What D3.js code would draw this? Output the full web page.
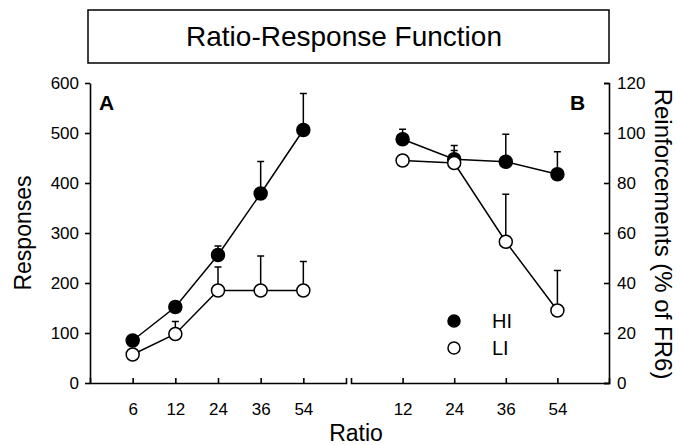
<!DOCTYPE html>
<html>
<head>
<meta charset="utf-8">
<script src="https://cdn.jsdelivr.net/npm/d3@7"></script>
<style>
  body { margin: 0; background: #fff; }
  svg { font-family: "Liberation Sans", Arial, sans-serif; }
</style>
</head>
<body>
<svg id="chart" width="681" height="445"></svg>
<script>
// panel A: responses
var ratiosA = [6, 12, 24, 36, 54];
var hiResp = [85, 152, 256, 379, 506];
var hiRespErr = [0, 0, 18, 64, 73];
var liResp = [57, 98, 185, 185, 185];
var liRespErr = [0, 25, 47, 69, 58];

// panel B: reinforcements (% of FR6)
var ratiosB = [12, 24, 36, 54];
var hiReinf = [97.5, 89.5, 88.5, 83.5];
var hiReinfErr = [4, 5.5, 11, 9];
var liReinf = [89, 88, 56.5, 29];
var liReinfErr = [0, 5, 19, 16];

var respTicks = [0, 100, 200, 300, 400, 500, 600];
var reinfTicks = [0, 20, 40, 60, 80, 100, 120];

var svg = d3.select('#chart');

var yA = d3.scaleLinear().domain([0, 600]).range([383, 83]);
var yB = d3.scaleLinear().domain([0, 120]).range([383, 83]);
var xA = d3.scalePoint().domain(ratiosA).range([90, 346]).padding(1);
var xB = d3.scalePoint().domain(ratiosB).range([351, 609]).padding(1);

// title box
svg.append('rect')
    .attr('x', 88).attr('y', 10).attr('width', 521).attr('height', 53)
    .attr('fill', 'none').attr('stroke', '#000').attr('stroke-width', 1.5);
svg.append('text')
    .attr('x', 344).attr('y', 46)
    .attr('text-anchor', 'middle')
    .style('font-size', '28px')
    .text('Ratio-Response Function');

// axes
function styleAxis(g) {
    g.selectAll('path, line').attr('stroke', '#000').attr('stroke-width', 1.6);
    g.selectAll('text').style('font-size', '17px').attr('fill', '#000');
    g.attr('font-family', null).attr('font-size', null);
}

svg.append('g')
    .attr('transform', 'translate(90,0)')
    .call(d3.axisLeft(yA).tickValues(respTicks).tickSize(5).tickSizeOuter(0).tickPadding(6))
    .call(styleAxis);

svg.append('g')
    .attr('transform', 'translate(609,0)')
    .call(d3.axisRight(yB).tickValues(reinfTicks).tickSize(-5).tickSizeOuter(-5).tickPadding(8))
    .call(styleAxis);

svg.append('g')
    .attr('transform', 'translate(0,383)')
    .call(d3.axisBottom(xA).tickSize(-5).tickSizeOuter(-5).tickPadding(20))
    .call(styleAxis);

svg.append('g')
    .attr('transform', 'translate(0,383)')
    .call(d3.axisBottom(xB).tickSize(-5).tickSizeOuter(-5).tickPadding(20))
    .call(styleAxis);

// axis titles
svg.append('text')
    .attr('transform', 'translate(31,233) rotate(-90)')
    .attr('text-anchor', 'middle')
    .style('font-size', '23px')
    .text('Responses');

svg.append('text')
    .attr('transform', 'translate(655,234) rotate(90)')
    .attr('text-anchor', 'middle')
    .style('font-size', '24px')
    .text('Reinforcements (% of FR6)');

svg.append('text')
    .attr('x', 356).attr('y', 441)
    .attr('text-anchor', 'middle')
    .style('font-size', '23px')
    .text('Ratio');

svg.append('text').attr('x', 99).attr('y', 110)
    .style('font-size', '21px').style('font-weight', 'bold').text('A');
svg.append('text').attr('x', 570).attr('y', 110)
    .style('font-size', '21px').style('font-weight', 'bold').text('B');

// series
function drawSeries(x, y, cats, vals, errs, filled) {
    var g = svg.append('g');
    var pts = cats.map(function(c, i) { return { c: c, v: vals[i], e: errs[i] }; });

    g.append('path')
        .datum(pts)
        .attr('fill', 'none')
        .attr('stroke', '#000')
        .attr('stroke-width', 1.5)
        .attr('d', d3.line()
            .x(function(d) { return x(d.c); })
            .y(function(d) { return y(d.v); }));

    var eb = g.selectAll('g.err')
        .data(pts.filter(function(d) { return d.e > 0; }))
      .enter().append('g');
    eb.append('line')
        .attr('x1', function(d) { return x(d.c); })
        .attr('x2', function(d) { return x(d.c); })
        .attr('y1', function(d) { return y(d.v); })
        .attr('y2', function(d) { return y(d.v + d.e); })
        .attr('stroke', '#000').attr('stroke-width', 1.5);
    eb.append('line')
        .attr('x1', function(d) { return x(d.c) - 3.5; })
        .attr('x2', function(d) { return x(d.c) + 3.5; })
        .attr('y1', function(d) { return y(d.v + d.e); })
        .attr('y2', function(d) { return y(d.v + d.e); })
        .attr('stroke', '#000').attr('stroke-width', 1.5);

    g.selectAll('circle')
        .data(pts)
      .enter().append('circle')
        .attr('cx', function(d) { return x(d.c); })
        .attr('cy', function(d) { return y(d.v); })
        .attr('r', 6.5)
        .attr('fill', filled ? '#000' : '#fff')
        .attr('stroke', '#000')
        .attr('stroke-width', 1.5);
}

drawSeries(xA, yA, ratiosA, hiResp, hiRespErr, true);
drawSeries(xA, yA, ratiosA, liResp, liRespErr, false);
drawSeries(xB, yB, ratiosB, hiReinf, hiReinfErr, true);
drawSeries(xB, yB, ratiosB, liReinf, liReinfErr, false);

// legend
var legend = svg.append('g');
[['HI', true], ['LI', false]].forEach(function(d, i) {
    legend.append('circle')
        .attr('cx', 454).attr('cy', 321 + i * 27).attr('r', 6)
        .attr('fill', d[1] ? '#000' : '#fff')
        .attr('stroke', '#000').attr('stroke-width', 1.5);
    legend.append('text')
        .attr('x', 492).attr('y', 328 + i * 27)
        .style('font-size', '20px')
        .text(d[0]);
});
</script>
</body>
</html>
